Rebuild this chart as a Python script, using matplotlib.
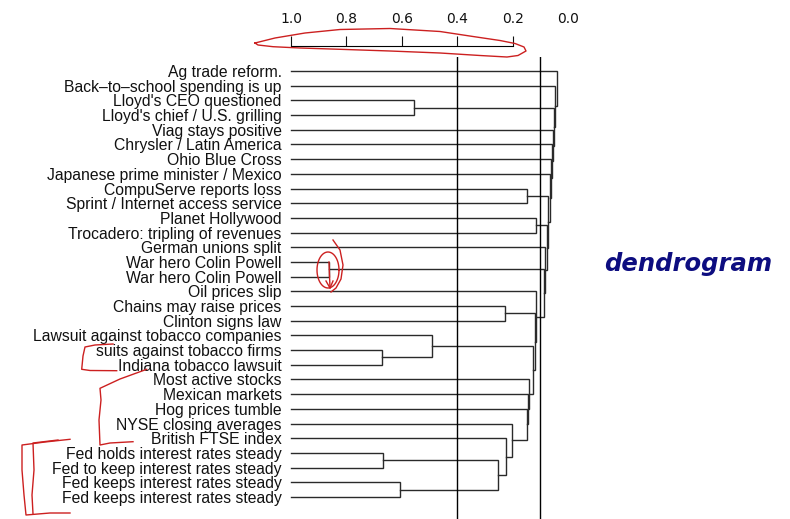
import matplotlib
matplotlib.use("Agg")
import matplotlib.pyplot as plt
import numpy as np

# ---------------- data ----------------
labels = [
    "Ag trade reform.",
    "Back\u2013to\u2013school spending is up",
    "Lloyd's CEO questioned",
    "Lloyd's chief / U.S. grilling",
    "Viag stays positive",
    "Chrysler / Latin America",
    "Ohio Blue Cross",
    "Japanese prime minister / Mexico",
    "CompuServe reports loss",
    "Sprint / Internet access service",
    "Planet Hollywood",
    "Trocadero: tripling of revenues",
    "German unions split",
    "War hero Colin Powell",
    "War hero Colin Powell",
    "Oil prices slip",
    "Chains may raise prices",
    "Clinton signs law",
    "Lawsuit against tobacco companies",
    "suits against tobacco firms",
    "Indiana tobacco lawsuit",
    "Most active stocks",
    "Mexican markets",
    "Hog prices tumble",
    "NYSE closing averages",
    "British FTSE index",
    "Fed holds interest rates steady",
    "Fed to keep interest rates steady",
    "Fed keeps interest rates steady",
    "Fed keeps interest rates steady",
]

# R-style merge table: negative = leaf (1-based), positive = earlier merge (1-based)
merge_left = [-14, -20, -27, -29, -3, -19, 3, -17, -26, -25, -9, -24, -23, -22,
              6, 8, -16, -11, 1, -13, 18, 11, -8, -7, -6, -5, 5, -2, -1]
merge_right = [-15, -21, -28, -30, -4, 2, 4, -18, 7, 9, -10, 10, 12, 13,
               14, 15, 16, -12, 17, 19, 20, 21, 22, 23, 24, 25, 26, 27, 28]
merge_sim = [0.862, 0.673, 0.669, 0.607, 0.555, 0.492, 0.254, 0.228, 0.225, 0.202,
             0.149, 0.148, 0.146, 0.141, 0.126, 0.119, 0.116, 0.116, 0.086, 0.083,
             0.077, 0.071, 0.065, 0.063, 0.059, 0.056, 0.050, 0.047, 0.041]

cut_levels = [0.4, 0.1]
tick_values = [1.0, 0.8, 0.6, 0.4, 0.2, 0.0]
tick_labels = ["1.0", "0.8", "0.6", "0.4", "0.2", "0.0"]
side_title = "dendrogram"

# ---------------- figure ----------------
W, H = 790, 519
fig = plt.figure(figsize=(W / 100, H / 100), dpi=100)
fig.patch.set_facecolor("white")

L_px, R_px, T_px, B_px = 291, 600, 57, 519
ax = fig.add_axes([L_px / W, 1 - B_px / H, (R_px - L_px) / W, (B_px - T_px) / H])
px_per_unit = 277.1
ax.set_xlim(1.0, 1.0 - (R_px - L_px) / px_per_unit)
leaf_step = 14.69
ax.set_ylim(1 + (B_px - 71) / leaf_step, 1 - (71 - T_px) / leaf_step)

line_col = "#2a2a2a"
pos = {}
def node_xy(i):
    if i < 0:
        return 1.0, float(-i)
    return pos[i]

for k, (a, b, h) in enumerate(zip(merge_left, merge_right, merge_sim), start=1):
    xa, ya = node_xy(a)
    xb, yb = node_xy(b)
    ax.plot([xa, h, h, xb], [ya, ya, yb, yb], color=line_col, lw=1.0,
            clip_on=False, solid_joinstyle="miter")
    pos[k] = (h, (ya + yb) / 2)

for c in cut_levels:
    ax.axvline(c, color="black", lw=1.0)

# leaf labels
ax.set_yticks(np.arange(1, len(labels) + 1))
ax.set_yticklabels(labels, fontsize=11.3, family="Liberation Sans", color="#111111")
ax.tick_params(axis="y", length=0, pad=6.7)

# top axis
ax.xaxis.tick_top()
ax.set_xticks(tick_values)
ax.set_xticklabels(tick_labels, fontsize=11.3, family="Liberation Sans", color="#111111")
ax.tick_params(axis="x", direction="out", length=7.2, width=0.8, pad=7.4, colors="#111111")
for sp in ["left", "right", "bottom"]:
    ax.spines[sp].set_visible(False)
ax.spines["top"].set_position(("outward", 7.9))
ax.spines["top"].set_bounds(0.2, 1.0)
ax.spines["top"].set_linewidth(0.8)
for t, v in zip(ax.xaxis.get_major_ticks(), tick_values):
    if v == 0.0:
        t.tick2line.set_visible(False)
        t.tick1line.set_visible(False)

# overlay for annotations (pixel coordinates)
ov = fig.add_axes([0, 0, 1, 1], facecolor="none")
ov.set_xlim(0, W)
ov.set_ylim(H, 0)
ov.axis("off")

ov.text(688, 271.5, side_title, fontsize=17.5, fontweight="bold", fontstyle="italic",
        family="DejaVu Sans", color="#0d0d80", ha="center", va="baseline")

red = "#cc2020"
# loop around the axis
ex = [255, 275, 305, 340, 390, 440, 473, 500, 515, 524, 526, 518, 507, 480, 440, 390, 340, 300, 273, 258, 255]
ey = [43, 38, 33, 29.5, 28.5, 31.5, 36.5, 40.5, 43.5, 47, 51, 55.5, 57, 55.5, 53, 51, 49.3, 48, 46.7, 45, 43]
ov.plot(ex, ey, color=red, lw=1.0)
# loop around the war hero merge
t = np.linspace(0, 2 * np.pi, 60)
ov.plot(328 + 11 * np.cos(t), 270 + 18 * np.sin(t), color=red, lw=1.0)
ov.plot([333, 340, 343, 341, 336, 331], [240, 250, 265, 279, 288, 292], color=red, lw=1.0)
ov.plot([329, 330], [262, 288], color=red, lw=1.0)
ov.plot([326, 330, 333], [281, 288, 281], color=red, lw=1.0)
# brackets on the left
ov.plot([113, 95, 85, 83, 81.7, 90, 116.7], [344, 345, 347, 356, 369.3, 370.5, 370.7], color=red, lw=1.0)
ov.plot([146.7, 120, 100, 101, 99, 100, 110, 133], [369.3, 379, 388.3, 400, 420, 445, 443, 441.7], color=red, lw=1.0)
ov.plot([70, 45, 22, 22, 24, 26, 50, 70], [439.3, 442, 445, 470, 495, 515, 513, 513], color=red, lw=1.0)
ov.plot([58, 33, 34, 32, 33], [440, 443, 470, 495, 514], color=red, lw=1.0)

fig.savefig("out.png", dpi=100, facecolor="white")
